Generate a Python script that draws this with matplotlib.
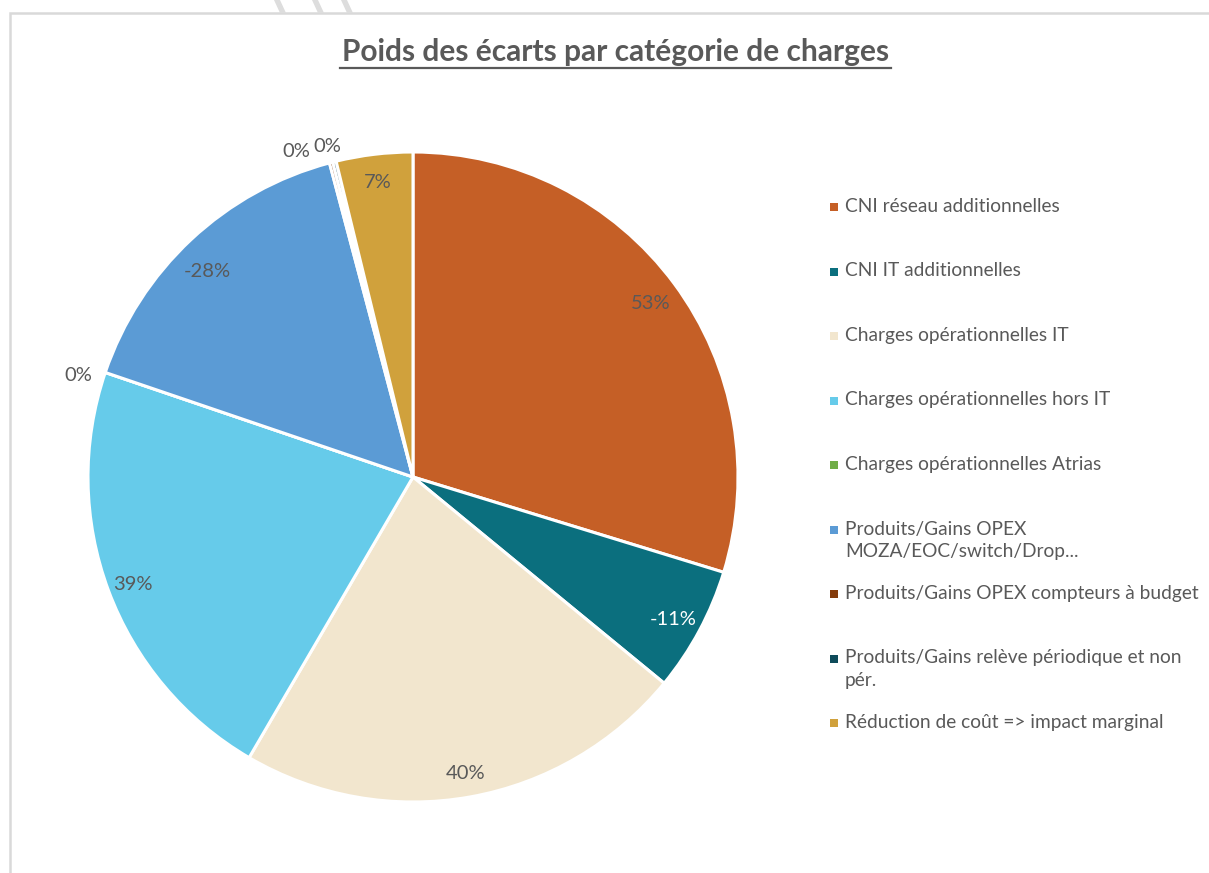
import matplotlib
matplotlib.use("Agg")
import matplotlib.pyplot as plt
from matplotlib.patches import Rectangle, Polygon
import numpy as np

plt.rcParams['font.family'] = ['Lato', 'DejaVu Sans']

# ---- data ----
categories = [
    "CNI réseau additionnelles",
    "CNI IT additionnelles",
    "Charges opérationnelles IT",
    "Charges opérationnelles hors IT",
    "Charges opérationnelles Atrias",
    "Produits/Gains OPEX\nMOZA/EOC/switch/Drop...",
    "Produits/Gains OPEX compteurs à budget",
    "Produits/Gains relève périodique et non\npér.",
    "Réduction de coût => impact marginal",
]
# signed weights (% of net total)
values = [53.2, -11.1, 40.2, 39.0, 0.0, -28.0, -0.3, -0.3, 6.8]
label_texts = ["53%", "-11%", "40%", "39%", "0%", "-28%", "0%", "0%", "7%"]
colors = ["#C55F26", "#0B6F7E", "#F2E6CE", "#66CBEA", "#70AD47",
          "#5B9BD5", "#843C0C", "#0E4B5A", "#D0A13C"]
label_colors = ["#595959", "#FFFFFF", "#595959", "#595959", "#595959",
                "#595959", "#595959", "#595959", "#595959"]
# label placement (radius, angular offset in degrees)
label_radius = [0.91, 0.91, 0.92, 0.92, 1.08, 0.90, 1.07, 1.06, 0.92]
label_dangle = [0, 0, 0, 0, 1.5, 1.5, 5.0, 0.5, 0]

W, H = 1209, 873
fig = plt.figure(figsize=(W / 100, H / 100), dpi=100)

# chart frame border
fig.patches.append(Rectangle((10 / W, -0.1), 1.2, (H - 13) / H + 0.1,
                             transform=fig.transFigure, fill=False,
                             edgecolor="#D9D9D9", linewidth=1.8))
# watermark strokes at the top
for x0 in [274, 312, 341]:
    pts = [(x0 / W, 1.0), ((x0 + 6) / W, 1.0), ((x0 + 12) / W, 1 - 13 / H), ((x0 + 6) / W, 1 - 13 / H)]
    fig.patches.append(Polygon(pts, closed=True, transform=fig.transFigure,
                               facecolor="#DDDDDD", edgecolor="none"))

cx, cy, R = 413, 477, 325
ax = fig.add_axes([(cx - R) / W, (H - cy - R) / H, 2 * R / W, 2 * R / H])
sizes = [abs(v) for v in values]
wedges, _ = ax.pie(sizes, colors=colors, startangle=90, counterclock=False,
                   wedgeprops=dict(edgecolor="white", linewidth=2.2))
ax.set_xlim(-1, 1)
ax.set_ylim(-1, 1)
ax.set_aspect("equal")
ax.axis("off")

for w, t, lc, r, da in zip(wedges, label_texts, label_colors, label_radius, label_dangle):
    ang = np.deg2rad((w.theta1 + w.theta2) / 2 + da)
    ax.text(r * np.cos(ang), r * np.sin(ang) - 0.008, t, ha="center", va="center",
            fontsize=14.5, color=lc, clip_on=False)

# title
fig.text(615.5 / W, 1 - 52 / H, "Poids des écarts par catégorie de charges",
         ha="center", va="center", fontsize=21.5, fontweight="bold", color="#595959")
fig.lines.append(plt.Line2D([340 / W, 891 / W], [1 - 68 / H, 1 - 68 / H],
                            transform=fig.transFigure, color="#595959", linewidth=1.6))

# legend (drawn manually to match Excel equal slot spacing)
y0, step = 207, 64.5
for i, (cat, col) in enumerate(zip(categories, colors)):
    y = y0 + i * step
    fig.patches.append(Rectangle((830 / W, 1 - (y + 4) / H), 8 / W, 8 / H,
                                 transform=fig.transFigure, facecolor=col, edgecolor="none"))
    fig.text(845 / W, 1 - (y - 9) / H, cat, ha="left", va="top", fontsize=13.8,
             color="#595959", linespacing=1.38)

fig.savefig("out.png", dpi=100, facecolor="white")
